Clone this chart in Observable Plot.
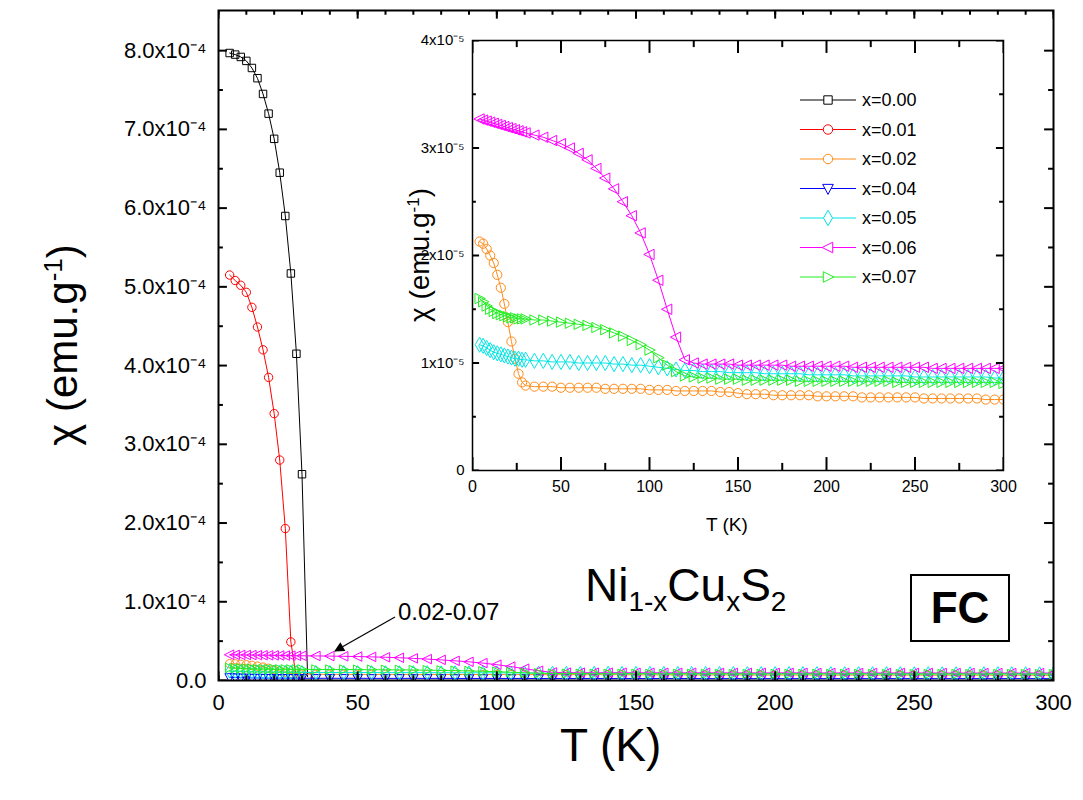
<!DOCTYPE html>
<html>
<head>
<meta charset="utf-8">
<script src="https://cdn.jsdelivr.net/npm/d3@7"></script>
<script src="https://cdn.jsdelivr.net/npm/@observablehq/plot@0.6"></script>
<style>
  body { margin: 0; background: #fff; font-family: Arial, "Liberation Sans", sans-serif; }
  #wrap { position: relative; width: 1083px; height: 800px; }
  .ov { position: absolute; white-space: nowrap; color: #000; }
</style>
</head>
<body>
<div id="wrap">
  <div id="main"></div>
  <div id="inset" style="position:absolute; left:402px; top:30px;"></div>
  <div class="ov" style="left:62px; top:345px; font-size:42px; transform:translate(-50%,-50%) rotate(-90deg);">χ (emu.g<sup style="font-size:26px">-1</sup>)</div>
  <div class="ov" style="left:560px; top:718px; font-size:46px;">T (K)</div>
  <div class="ov" style="left:420px; top:255px; font-size:28px; transform:translate(-50%,-50%) rotate(-90deg);">χ (emu.g<sup style="font-size:17px">-1</sup>)</div>
  <div class="ov" style="left:706px; top:514px; font-size:19px;">T (K)</div>
  <div class="ov" style="left:585px; top:558px; font-size:46px;">Ni<sub style="font-size:28px">1-x</sub>Cu<sub style="font-size:28px">x</sub>S<sub style="font-size:28px">2</sub></div>
  <div class="ov" style="left:910px; top:574px; width:96px; height:64px; border:2px solid #000; font-size:44px; font-weight:bold; text-align:center; line-height:64px;">FC</div>
  <div class="ov" style="left:398px; top:598px; font-size:24px;">0.02-0.07</div>
  <svg class="ov" id="arrow" style="left:0; top:0;" width="1083" height="800"></svg>
  <svg class="ov" id="legend" style="left:790px; top:85px;" width="160" height="210"></svg>
</div>
<script>
// main curves (T in K, chi in 1e-4 emu/g)
const tBlack = [4, 6, 8, 10, 12, 14, 16, 18, 20, 22, 24, 26, 28, 30, 32];
const vBlack = [7.97, 7.95, 7.92, 7.87, 7.78, 7.65, 7.45, 7.20, 6.88, 6.45, 5.90, 5.17, 4.15, 2.62, 0.05];
const tRed = [4, 6, 8, 10, 12, 14, 16, 18, 20, 22, 24, 26, 28];
const vRed = [5.15, 5.08, 5.02, 4.93, 4.74, 4.49, 4.20, 3.85, 3.39, 2.80, 1.93, 0.49, 0.03];

// low-moment curves (T in K, chi in 1e-5 emu/g)
const tLow = [4, 6, 8, 10, 12, 14, 16, 18, 20, 22, 24, 26, 28, 30,
  35, 40, 45, 50, 55, 60, 65, 70, 75, 80,
  85, 90, 95, 100, 105, 110, 115, 120, 125, 130,
  135, 140, 145, 150, 155, 160, 165, 170, 175, 180,
  185, 190, 195, 200, 205, 210, 215, 220, 225, 230,
  235, 240, 245, 250, 255, 260, 265, 270, 275, 280,
  285, 290, 295, 300];
const vX002 = [2.13, 2.11, 2.06, 2.00, 1.93, 1.82, 1.70, 1.55, 1.38, 1.20, 1.04, 0.90, 0.82, 0.79,
  0.78, 0.78, 0.78, 0.77, 0.77, 0.77, 0.77, 0.77, 0.76, 0.76,
  0.76, 0.76, 0.76, 0.75, 0.75, 0.75, 0.74, 0.74, 0.74, 0.74,
  0.74, 0.73, 0.73, 0.72, 0.71, 0.71, 0.71, 0.70, 0.70, 0.70,
  0.70, 0.70, 0.69, 0.69, 0.69, 0.69, 0.69, 0.68, 0.68, 0.68,
  0.68, 0.68, 0.68, 0.68, 0.67, 0.67, 0.67, 0.67, 0.67, 0.67,
  0.67, 0.66, 0.66, 0.66];
const vX004 = [0.40, 0.38, 0.36, 0.34, 0.33, 0.32, 0.31, 0.30, 0.30, 0.30, 0.29, 0.29, 0.29, 0.29,
  0.28, 0.28, 0.28, 0.28, 0.27, 0.27, 0.27, 0.27, 0.27, 0.27,
  0.26, 0.26, 0.26, 0.26, 0.26, 0.26, 0.25, 0.25, 0.25, 0.25,
  0.25, 0.25, 0.25, 0.25, 0.25, 0.25, 0.25, 0.25, 0.24, 0.24,
  0.24, 0.24, 0.24, 0.24, 0.24, 0.24, 0.24, 0.24, 0.24, 0.24,
  0.24, 0.24, 0.24, 0.24, 0.24, 0.24, 0.24, 0.24, 0.24, 0.24,
  0.24, 0.24, 0.24, 0.24];
const vX005 = [1.17, 1.16, 1.14, 1.12, 1.10, 1.09, 1.08, 1.07, 1.06, 1.05, 1.04, 1.04, 1.03, 1.03,
  1.02, 1.02, 1.01, 1.01, 1.01, 1.00, 1.00, 1.00, 1.00, 0.99,
  0.99, 0.98, 0.98, 0.97, 0.96, 0.95, 0.94, 0.93, 0.93, 0.92,
  0.92, 0.92, 0.91, 0.91, 0.91, 0.91, 0.90, 0.90, 0.90, 0.90,
  0.90, 0.89, 0.89, 0.89, 0.89, 0.89, 0.88, 0.88, 0.88, 0.88,
  0.88, 0.88, 0.88, 0.87, 0.87, 0.87, 0.87, 0.87, 0.87, 0.87,
  0.87, 0.87, 0.86, 0.86];
const vX006 = [3.27, 3.26, 3.25, 3.24, 3.23, 3.22, 3.21, 3.20, 3.19, 3.18, 3.17, 3.16, 3.15, 3.14,
  3.12, 3.10, 3.07, 3.04, 3.00, 2.95, 2.89, 2.81, 2.72, 2.62,
  2.50, 2.37, 2.21, 2.01, 1.77, 1.50, 1.24, 1.03, 1.00, 0.99,
  0.99, 0.99, 0.99, 0.98, 0.98, 0.98, 0.98, 0.98, 0.98, 0.97,
  0.97, 0.97, 0.97, 0.97, 0.97, 0.97, 0.96, 0.96, 0.96, 0.96,
  0.96, 0.96, 0.96, 0.96, 0.96, 0.95, 0.95, 0.95, 0.95, 0.95,
  0.95, 0.95, 0.95, 0.95];
const vX007 = [1.60, 1.57, 1.53, 1.50, 1.48, 1.46, 1.45, 1.44, 1.43, 1.42, 1.42, 1.41, 1.41, 1.41,
  1.40, 1.40, 1.39, 1.38, 1.37, 1.36, 1.35, 1.33, 1.31, 1.28,
  1.25, 1.21, 1.17, 1.12, 1.05, 0.98, 0.92, 0.88, 0.87, 0.86,
  0.86, 0.85, 0.85, 0.85, 0.84, 0.84, 0.84, 0.84, 0.84, 0.84,
  0.83, 0.83, 0.83, 0.83, 0.83, 0.83, 0.83, 0.83, 0.83, 0.83,
  0.83, 0.82, 0.82, 0.82, 0.82, 0.82, 0.82, 0.82, 0.82, 0.82,
  0.82, 0.82, 0.82, 0.81];

const mainYTicks = [0, 1, 2, 3, 4, 5, 6, 7, 8];
const insetYTicks = [0, 1, 2, 3, 4];
const xTicks = [0, 50, 100, 150, 200, 250, 300];

// custom triangle symbols
const tri = (pts) => ({draw(c, s) {
  const r = Math.sqrt(s / Math.PI) * 1.25;
  c.moveTo(pts[0][0] * r, pts[0][1] * r);
  for (const p of pts.slice(1)) c.lineTo(p[0] * r, p[1] * r);
  c.closePath();
}});
const triLeft = tri([[-1, 0], [0.8, -0.9], [0.8, 0.9]]);
const triRight = tri([[1, 0], [-0.8, -0.9], [-0.8, 0.9]]);
const triDown = tri([[0, 1], [-0.9, -0.7], [0.9, -0.7]]);

const series = [
  {name: "x=0.00", color: "#000000", symbol: "square", t: tBlack, v: vBlack.map(d => d * 10), inset: false},
  {name: "x=0.01", color: "#ff0000", symbol: "circle", t: tRed, v: vRed.map(d => d * 10), inset: false},
  {name: "x=0.02", color: "#ff8c1a", symbol: "circle", t: tLow, v: vX002, inset: true},
  {name: "x=0.04", color: "#0000ff", symbol: triDown, t: tLow, v: vX004, inset: false},
  {name: "x=0.05", color: "#00e5e5", symbol: "diamond", t: tLow, v: vX005, inset: true},
  {name: "x=0.06", color: "#ff00ff", symbol: triLeft, t: tLow, v: vX006, inset: true},
  {name: "x=0.07", color: "#22ee22", symbol: triRight, t: tLow, v: vX007, inset: true}
];
// values stored in units of 1e-5
const rows = s => s.t.map((t, i) => ({T: t, chi: s.v[i] * 1e-5}));

function curveMarks(list, r) {
  return list.flatMap(s => [
    Plot.line(rows(s), {x: "T", y: "chi", stroke: s.color, strokeWidth: 1}),
    Plot.dot(rows(s), {x: "T", y: "chi", stroke: s.color, fill: "white", fillOpacity: 0, symbol: () => s.symbol, r, strokeWidth: 1})
  ]);
}

function inwardTicks(xMinor, xMajor, yMinor, yMajor, xLen, yLen, yMax) {
  const xm = (arr, len) => [
    Plot.ruleX(arr, {x: d => d, y1: 0, y2: len, stroke: "black", strokeWidth: 2}),
    Plot.ruleX(arr, {x: d => d, y1: yMax, y2: yMax - len, stroke: "black", strokeWidth: 2})
  ];
  const ym = (arr, len) => [
    Plot.ruleY(arr, {y: d => d, x1: 0, x2: len, stroke: "black", strokeWidth: 2}),
    Plot.ruleY(arr, {y: d => d, x1: 300, x2: 300 - len, stroke: "black", strokeWidth: 2})
  ];
  return [...xm(xMinor, xLen * 0.55), ...xm(xMajor, xLen), ...ym(yMinor, yLen * 0.55), ...ym(yMajor, yLen)];
}

const mainYMax = 8.51e-4;
const main = Plot.plot({
  width: 1083, height: 800,
  marginLeft: 218, marginRight: 30, marginTop: 10, marginBottom: 120,
  style: {fontSize: "22px", fontFamily: "Arial, 'Liberation Sans', sans-serif", color: "#000", overflow: "visible"},
  x: {domain: [0, 300]},
  y: {domain: [0, mainYMax]},
  clip: true,
  marks: [
    ...curveMarks(series, 4.2),
    ...inwardTicks(d3.range(0, 301, 10), xTicks, d3.range(0.5e-4, 8.5e-4, 1e-4), mainYTicks.map(d => d * 1e-4), 1.1e-5, 3.2, mainYMax),
    Plot.axisX({ticks: xTicks, tickSize: 0, tickPadding: 14, label: null, fontSize: 22}),
    Plot.axisY({ticks: mainYTicks.map(d => d * 1e-4), tickSize: 0, tickPadding: 12, label: null, fontSize: 22,
      tickFormat: d => d === 0 ? "0.0" : (d / 1e-4).toFixed(1) + "x10⁻⁴"}),
    Plot.frame({stroke: "black", strokeWidth: 2})
  ]
});
document.getElementById("main").append(main);

const insetYMax = 4e-5;
const inset = Plot.plot({
  width: 611, height: 480,
  marginLeft: 70, marginRight: 10, marginTop: 10, marginBottom: 40,
  style: {fontSize: "16px", fontFamily: "Arial, 'Liberation Sans', sans-serif", color: "#000", overflow: "visible", background: "white"},
  x: {domain: [0, 300]},
  y: {domain: [0, insetYMax]},
  clip: true,
  marks: [
    ...curveMarks(series.filter(s => s.inset), 4.6),
    ...inwardTicks(d3.range(25, 300, 50), xTicks, d3.range(0.5e-5, 4e-5, 1e-5), insetYTicks.map(d => d * 1e-5), 1.2e-6, 4, insetYMax),
    Plot.axisX({ticks: xTicks, tickSize: 0, tickPadding: 10, label: null, fontSize: 16}),
    Plot.axisY({ticks: insetYTicks.map(d => d * 1e-5), tickSize: 0, tickPadding: 8, label: null, fontSize: 15,
      tickFormat: d => d === 0 ? "0" : d / 1e-5 + "x10⁻⁵"}),
    Plot.frame({stroke: "black", strokeWidth: 1.5})
  ]
});
document.getElementById("inset").append(inset);

// legend
const lg = d3.select("#legend");
series.forEach((s, i) => {
  const y = 15 + i * 29.5;
  lg.append("line").attr("x1", 10).attr("x2", 66).attr("y1", y).attr("y2", y).attr("stroke", s.color);
  const sym = typeof s.symbol === "string" ? {square: d3.symbolSquare, circle: d3.symbolCircle, diamond: d3.symbolDiamond}[s.symbol] : s.symbol;
  lg.append("path").attr("d", d3.symbol(sym, 70)()).attr("transform", `translate(38,${y})`)
    .attr("fill", "white").attr("stroke", s.color);
  lg.append("text").attr("x", 72).attr("y", y + 6).attr("font-size", 18).attr("font-family", "Arial, 'Liberation Sans', sans-serif").text(s.name);
});

// annotation arrow
const ar = d3.select("#arrow");
ar.append("defs").append("marker").attr("id", "ah").attr("viewBox", "0 0 10 10").attr("refX", 9).attr("refY", 5)
  .attr("markerWidth", 12).attr("markerHeight", 10).attr("orient", "auto").attr("markerUnits", "userSpaceOnUse")
  .append("path").attr("d", "M0,0L10,5L0,10z").attr("fill", "black");
ar.append("line").attr("x1", 395).attr("y1", 617).attr("x2", 335).attr("y2", 651)
  .attr("stroke", "black").attr("stroke-width", 1.2).attr("marker-end", "url(#ah)");
</script>
</body>
</html>
